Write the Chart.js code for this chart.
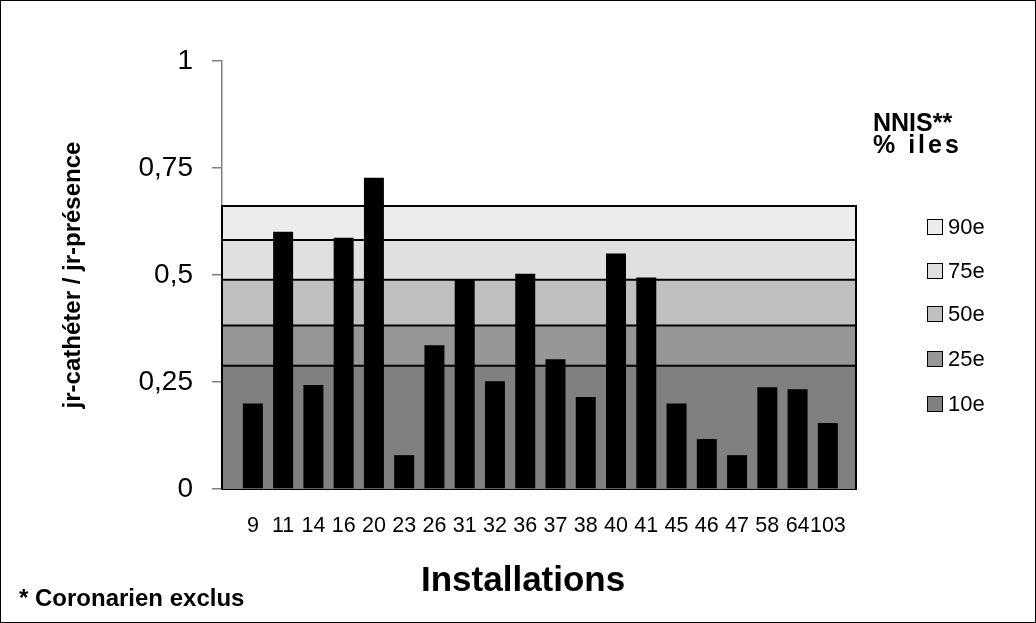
<!DOCTYPE html>
<html>
<head>
<meta charset="utf-8">
<script src="https://cdn.jsdelivr.net/npm/chart.js@4"></script>
<style>
  html, body { margin: 0; padding: 0; background: #fff; }
  #wrap { position: relative; width: 1036px; height: 623px; box-sizing: border-box; border: 1px solid #000; overflow: hidden; font-family: "Liberation Sans", Arial, sans-serif; }
  #c { position: absolute; left: 0; top: 0; }
  .txt { position: absolute; color: #000; white-space: nowrap; }
  .lg { position: absolute; left: 926px; font-size: 22px; line-height: 22px; display: flex; align-items: center; }
  .lg span.box { display: inline-block; width: 14px; height: 14px; border: 1.5px solid #000; margin-right: 5px; }
</style>
</head>
<body>
<div id="wrap">
  <canvas id="c" width="1036" height="623"></canvas>
  <div class="txt" style="left:872px; top:110px; font-size:25px; font-weight:bold; line-height:22px;">NNIS**<br><span style="letter-spacing:3px">% iles</span></div>
  <div id="legend"></div>
  <div class="txt" style="left:420px; top:560px; font-size:35px; font-weight:bold; line-height:35px;">Installations</div>
  <div class="txt" style="left:18px; top:585px; font-size:24px; font-weight:bold; line-height:24px;">* Coronarien exclus</div>
</div>
<script>
// ---- data ----
const categories = ['9','11','14','16','20','23','26','31','32','36','37','38','40','41','45','46','47','58','64','103'];
const ratios = [0.200,0.601,0.243,0.587,0.727,0.079,0.336,0.489,0.252,0.503,0.303,0.215,0.550,0.494,0.200,0.117,0.079,0.238,0.233,0.154];
const percentileLabels = ['10e','25e','50e','75e','90e'];
const percentileValues = [0.288,0.382,0.489,0.582,0.661];
const percentileColors = ['#808080','#969696','#c0c0c0','#e0e0e0','#ececec'];
const yTicks = [0,0.25,0.5,0.75,1];

const X_MIN = -1.02, X_MAX = 19.93;

const bandSets = percentileValues.map((v, i) => ({
  type: 'line',
  label: percentileLabels[i],
  data: [{x: X_MIN, y: v}, {x: X_MAX, y: v}],
  borderColor: '#000',
  borderWidth: 2,
  backgroundColor: percentileColors[i],
  fill: i === 0 ? 'origin' : '-1',
  pointRadius: 0,
  order: 2,
  clip: false
}));
const bandTop = percentileValues[percentileValues.length - 1];
const frameSet = {
  type: 'line', label: 'frame',
  data: [{x: X_MIN, y: 0}, {x: X_MIN, y: bandTop}, {x: X_MAX, y: bandTop}, {x: X_MAX, y: 0}],
  borderColor: '#000', borderWidth: 2, fill: false, pointRadius: 0, order: 1, clip: false
};
const barSet = {
  type: 'bar', label: 'jr-cathéter / jr-présence',
  data: ratios.map((v, i) => ({x: i, y: v})),
  backgroundColor: '#000',
  borderWidth: 0,
  barPercentage: 0.66,
  categoryPercentage: 1,
  order: 0
};

new Chart(document.getElementById('c'), {
  data: { datasets: [...bandSets, frameSet, barSet] },
  options: {
    responsive: false,
    animation: false,
    layout: { padding: { top: 60, right: 181, bottom: 0, left: 0 } },
    plugins: { legend: { display: false }, tooltip: { enabled: false } },
    scales: {
      x: {
        type: 'linear', min: X_MIN, max: X_MAX, offset: false,
        afterFit: s => { s.height = 135; },
        afterBuildTicks: s => { s.ticks = categories.map((c, i) => ({ value: i })); },
        grid: { display: false, drawTicks: false, offset: false },
        border: { display: true, color: '#000', width: 2 },
        ticks: {
          autoSkip: false, maxRotation: 0, minRotation: 0, padding: 24,
          color: '#000', font: { family: '"Liberation Sans", Arial', size: 21.5 },
          callback: v => categories[v]
        }
      },
      y: {
        min: 0, max: 1,
        afterFit: s => { s.width = 221; },
        afterBuildTicks: s => { s.ticks = yTicks.map(v => ({ value: v })); },
        grid: { drawOnChartArea: false, drawTicks: true, tickLength: 10, color: '#808080', lineWidth: 1.5 },
        border: { display: true, color: '#808080', width: 1.5 },
        ticks: {
          padding: 19, color: '#000', font: { family: '"Liberation Sans", Arial', size: 28 },
          callback: v => String(v).replace('.', ',')
        },
        title: {
          display: true, text: 'jr-cathéter / jr-présence', color: '#000',
          font: { family: '"Liberation Sans", Arial', size: 24, weight: 'bold' },
          padding: { top: 58, bottom: 0 }
        }
      }
    }
  }
});

// legend (HTML), highest percentile first
const lg = document.getElementById('legend');
const legendTops = [215, 259, 302, 347, 392];
percentileLabels.slice().reverse().forEach((lab, k) => {
  const idx = percentileLabels.length - 1 - k;
  const d = document.createElement('div');
  d.className = 'lg';
  d.style.top = legendTops[k] + 'px';
  d.innerHTML = '<span class="box" style="background:' + percentileColors[idx] + '"></span>' + lab;
  lg.appendChild(d);
});
</script>
</body>
</html>
